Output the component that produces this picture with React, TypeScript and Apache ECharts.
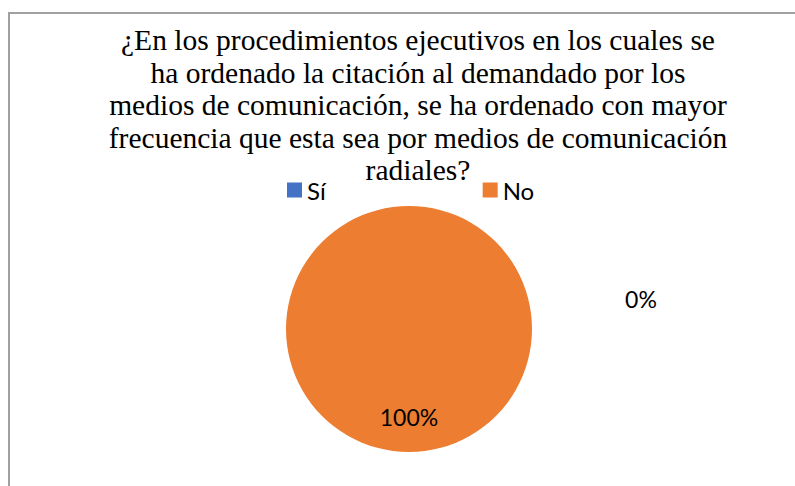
import React, { useEffect, useRef } from "react";
import * as echarts from "echarts";

const titleLines = [
  "¿En los procedimientos ejecutivos en los cuales se",
  "ha ordenado la citación al demandado por los",
  "medios de comunicación, se ha ordenado con mayor",
  "frecuencia que esta sea por medios de comunicación",
  "radiales?",
];
const categories = ["Sí", "No"];
const values = [0, 100];
const colors = ["#4472C4", "#ED7D31"];

export default function App() {
  const ref = useRef<HTMLDivElement>(null);
  useEffect(() => {
    if (!ref.current) return;
    const chart = echarts.init(ref.current, null, { renderer: "svg" });
    const labelPos = [
      { x: 641, y: 299 },
      { x: 409, y: 417 },
    ];
    chart.setOption({
      animation: false,
      backgroundColor: "#ffffff",
      title: {
        text: titleLines.join("\n"),
        left: 418,
        top: 24,
        padding: 0,
        textAlign: "center",
        textStyle: {
          fontFamily: "'Liberation Serif', 'Times New Roman', serif",
          fontSize: 29.5,
          fontWeight: "normal",
          color: "#000000",
          lineHeight: 32.5,
        },
      },
      legend: {
        data: categories,
        left: 287,
        top: 178,
        itemWidth: 15,
        itemHeight: 15,
        itemGap: 157,
        itemTextGap: 6,
        icon: "rect",
        padding: 0,
        textStyle: {
          fontFamily: "Lato",
          fontSize: 24,
          color: "#000000",
          padding: [0, 0, 0, 0],
        },
      },
      graphic: [
        {
          type: "rect",
          shape: { x: 9, y: 13, width: 820, height: 520 },
          style: { fill: "none", stroke: "#a0a0a0", lineWidth: 2 },
          silent: true,
        },
      ],
      series: [
        {
          type: "pie",
          center: [409, 329],
          radius: 123,
          startAngle: 90,
          clockwise: true,
          avoidLabelOverlap: false,
          itemStyle: { borderWidth: 0 },
          label: {
            show: true,
            formatter: (p: any) => Math.round(p.percent) + "%",
            fontFamily: "Lato",
            fontSize: 23,
            color: "#000000",
          },
          labelLine: { show: false },
          labelLayout: (params: any) => ({
            x: labelPos[params.dataIndex].x,
            y: labelPos[params.dataIndex].y,
            align: "center",
            verticalAlign: "middle",
          }),
          data: categories.map((c, i) => ({
            name: c,
            value: values[i],
            itemStyle: { color: colors[i] },
          })),
        },
      ],
    });
    return () => chart.dispose();
  }, []);
  return (
    <div
      ref={ref}
      style={{ position: "fixed", left: 0, top: 0, width: 795, height: 486 }}
    />
  );
}
